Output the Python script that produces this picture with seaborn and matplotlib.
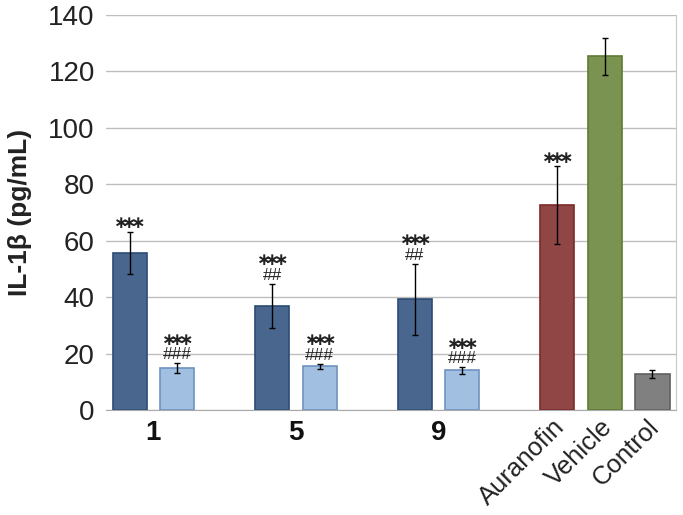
import matplotlib
matplotlib.use("Agg")
import matplotlib.pyplot as plt
import matplotlib.transforms as mtransforms
import numpy as np
import pandas as pd
import seaborn as sns

# values (pg/mL)
bar_names = ["1a", "1b", "5a", "5b", "9a", "9b", "Auranofin", "Vehicle", "Control"]
il1b = [55.6, 14.8, 37.0, 15.5, 39.3, 14.0, 72.5, 125.4, 12.8]
il1b_err = [7.5, 1.8, 7.8, 0.9, 12.6, 1.2, 13.8, 6.6, 1.5]
stars = ["***", "***", "***", "***", "***", "***", "***", "", ""]
hashes = ["", "###", "##", "###", "##", "###", "", "", ""]
bar_colors = ["#3D6699", "#96BFEC", "#3D6699", "#96BFEC", "#3D6699", "#96BFEC",
              "#9E3A39", "#7E9E45", "#808080"]
edge_colors = ["#2B4C75", "#6F93BF", "#2B4C75", "#6F93BF", "#2B4C75", "#6F93BF",
               "#7A2A29", "#5F7A30", "#606060"]
tick_labels = ["1", "5", "9", "Auranofin", "Vehicle", "Control"]

# layout
bar_pos = [0, 1, 3, 4, 6, 7, 9, 10, 11]
tick_pos = [0.5, 3.5, 6.5, 9, 10, 11]

df = pd.DataFrame({"pos": bar_pos, "value": il1b, "name": bar_names})

sns.set_style("white")
plt.rcParams['font.family'] = ['Liberation Sans', 'DejaVu Sans']

fig = plt.figure(figsize=(6.83, 5.15), dpi=100)
ax = fig.add_axes([0.155, 0.204, 0.835, 0.767])

sns.barplot(data=df, x="pos", y="value", hue="name", palette=dict(zip(bar_names, bar_colors)),
            native_scale=True, dodge=False, width=0.72, legend=False, ax=ax, zorder=2)
for patch, ec in zip(ax.patches, edge_colors):
    patch.set_edgecolor(ec)
    patch.set_linewidth(1.2)

ax.errorbar(bar_pos, il1b, yerr=il1b_err, fmt="none", ecolor="black",
            elinewidth=1, capsize=2, capthick=1, zorder=3)

# significance marks: one text per bar, stars over hashes
for x, v, e, s, h in zip(bar_pos, il1b, il1b_err, stars, hashes):
    if not s:
        continue
    lines = [r"$\mathbf{%s}$" % r"\!\!".join([r"{\ast}"] * len(s))]
    if h:
        lines.append(h)
    ax.text(x, v + e + 0.3, "\n".join(lines), ha="center", va="bottom",
            fontsize=12.5, linespacing=0.95, color="#222222")

ax.set_xlim(-0.5, 11.5)
ax.set_ylim(0, 140)
ax.set_yticks(np.arange(0, 141, 20))
ax.yaxis.grid(True, color="#BEBEBE", linewidth=1)
ax.set_axisbelow(True)
ax.tick_params(axis="y", labelsize=20, length=0, pad=8, colors="#222222")
ax.tick_params(axis="x", length=0, pad=7)

ax.set_xticks(tick_pos)
ax.set_xticklabels(tick_labels)
shift = mtransforms.ScaledTranslation(-5 / 100, 5 / 100, fig.dpi_scale_trans)
for lbl in ax.get_xticklabels():
    if lbl.get_text() in ("1", "5", "9"):
        lbl.set_fontsize(20)
        lbl.set_fontweight("bold")
        lbl.set_color("#111111")
    else:
        lbl.set_fontsize(18.5)
        lbl.set_rotation(45)
        lbl.set_ha("right")
        lbl.set_rotation_mode("anchor")
        lbl.set_color("#222222")
        lbl.set_transform(lbl.get_transform() + shift)

ax.set_xlabel("")
ax.set_ylabel("IL-1β (pg/mL)", fontsize=19, fontweight="bold", labelpad=12, color="#222222")

for s in ["left", "top"]:
    ax.spines[s].set_visible(False)
ax.spines["right"].set_color("#C8C8C8")
ax.spines["bottom"].set_color("#AAAAAA")

fig.savefig("out.png", dpi=100)
